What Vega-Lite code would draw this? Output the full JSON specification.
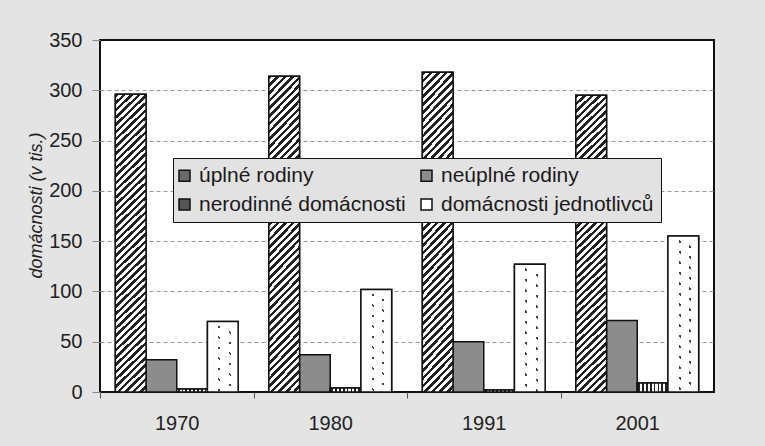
{
"$schema": "https://vega.github.io/schema/vega-lite/v6.json",
"width": 614, "height": 352,
"autosize": {"type": "none"},
"padding": {"left": 100, "top": 40, "right": 51, "bottom": 54},
"background": "#e4e4e4",
"config": {"font": "Liberation Sans", "view": {"stroke": "#111111", "strokeWidth": 2, "fill": "#ffffff"}},
"data": {"values": [
{"rok": "1970", "typ": "úplné rodiny", "hodnota": 296},
{"rok": "1970", "typ": "neúplné rodiny", "hodnota": 32},
{"rok": "1970", "typ": "nerodinné domácnosti", "hodnota": 3},
{"rok": "1970", "typ": "domácnosti jednotlivců", "hodnota": 70},
{"rok": "1980", "typ": "úplné rodiny", "hodnota": 314},
{"rok": "1980", "typ": "neúplné rodiny", "hodnota": 37},
{"rok": "1980", "typ": "nerodinné domácnosti", "hodnota": 4},
{"rok": "1980", "typ": "domácnosti jednotlivců", "hodnota": 102},
{"rok": "1991", "typ": "úplné rodiny", "hodnota": 318},
{"rok": "1991", "typ": "neúplné rodiny", "hodnota": 50},
{"rok": "1991", "typ": "nerodinné domácnosti", "hodnota": 2},
{"rok": "1991", "typ": "domácnosti jednotlivců", "hodnota": 127},
{"rok": "2001", "typ": "úplné rodiny", "hodnota": 295},
{"rok": "2001", "typ": "neúplné rodiny", "hodnota": 71},
{"rok": "2001", "typ": "nerodinné domácnosti", "hodnota": 9},
{"rok": "2001", "typ": "domácnosti jednotlivců", "hodnota": 155}
]},
"encoding": {
"x": {"field": "rok", "type": "nominal", "sort": null,
 "scale": {"domain": ["1970", "1980", "1991", "2001"], "paddingInner": 0.2, "paddingOuter": 0.1},
 "axis": {"title": null, "domain": false, "grid": false, "labelAngle": 0, "labelFontSize": 20, "labelColor": "#222222", "labelPadding": 15, "tickSize": 6, "tickColor": "#555555", "bandPosition": 0, "tickOffset": -15.35, "labelOffset": 15.35}},
"xOffset": {"field": "typ", "type": "nominal", "scale": {"domain": ["úplné rodiny", "neúplné rodiny", "nerodinné domácnosti", "domácnosti jednotlivců"], "paddingInner": 0, "paddingOuter": 0}},
"y": {"field": "hodnota", "type": "quantitative", "scale": {"domain": [0, 350], "nice": false},
 "axis": {"title": "domácnosti (v tis.)", "titleFontStyle": "italic", "titleFontWeight": "normal", "titleFontSize": 18, "titleColor": "#222222", "titleX": -58.5, "titleY": 165, "titleBaseline": "alphabetic",
  "values": [0, 50, 100, 150, 200, 250, 300, 350], "domain": false, "labelFontSize": 20, "labelColor": "#222222", "labelPadding": 10, "tickSize": 8, "tickColor": "#888888",
  "grid": true, "gridColor": "#999999", "gridDash": [4, 3], "gridOpacity": {"condition": {"test": "datum.value === 0 || datum.value === 350", "value": 0}, "value": 1}}}
},
"layer": [
{"mark": {"type": "bar", "stroke": "#111111", "strokeWidth": 1.5},
 "encoding": {"fill": {"field": "typ", "type": "nominal",
  "scale": {"domain": ["úplné rodiny", "neúplné rodiny", "nerodinné domácnosti", "domácnosti jednotlivců"],
   "range": ["#6a6a6a", "#8c8c8c", "#555555", "#ffffff"]},
  "legend": {"title": null, "orient": "none", "legendX": 73, "legendY": 118, "columns": 2, "direction": "horizontal",
   "symbolType": "square", "symbolSize": 121, "symbolStrokeColor": "#111111", "symbolStrokeWidth": 1.5, "symbolOffset": -6,
   "labelFontSize": 21, "labelColor": "#1a1a1a", "labelOffset": 4, "columnPadding": 12, "rowPadding": 7, "padding": 7,
   "fillColor": "#e2e2e2", "strokeColor": "#111111", "labelLimit": 400}}}},
{"transform": [{"filter": "datum.typ === 'úplné rodiny'"}],
 "mark": {"type": "bar", "stroke": "#111111", "strokeWidth": 1.5,
  "fill": {"gradient": "linear", "x1": 0, "y1": 0, "x2": 0.1085, "y2": 1.0889, "stops": [
{"offset":0,"color":"#222"},{"offset":0.0105,"color":"#222"},{"offset":0.0105,"color":"#fff"},{"offset":0.0222,"color":"#fff"},
{"offset":0.0222,"color":"#222"},{"offset":0.0327,"color":"#222"},{"offset":0.0327,"color":"#fff"},{"offset":0.0444,"color":"#fff"},
{"offset":0.0444,"color":"#222"},{"offset":0.0549,"color":"#222"},{"offset":0.0549,"color":"#fff"},{"offset":0.0667,"color":"#fff"},
{"offset":0.0667,"color":"#222"},{"offset":0.0772,"color":"#222"},{"offset":0.0772,"color":"#fff"},{"offset":0.0889,"color":"#fff"},
{"offset":0.0889,"color":"#222"},{"offset":0.0994,"color":"#222"},{"offset":0.0994,"color":"#fff"},{"offset":0.1111,"color":"#fff"},
{"offset":0.1111,"color":"#222"},{"offset":0.1216,"color":"#222"},{"offset":0.1216,"color":"#fff"},{"offset":0.1333,"color":"#fff"},
{"offset":0.1333,"color":"#222"},{"offset":0.1438,"color":"#222"},{"offset":0.1438,"color":"#fff"},{"offset":0.1556,"color":"#fff"},
{"offset":0.1556,"color":"#222"},{"offset":0.1661,"color":"#222"},{"offset":0.1661,"color":"#fff"},{"offset":0.1778,"color":"#fff"},
{"offset":0.1778,"color":"#222"},{"offset":0.1883,"color":"#222"},{"offset":0.1883,"color":"#fff"},{"offset":0.2,"color":"#fff"},
{"offset":0.2,"color":"#222"},{"offset":0.2105,"color":"#222"},{"offset":0.2105,"color":"#fff"},{"offset":0.2222,"color":"#fff"},
{"offset":0.2222,"color":"#222"},{"offset":0.2327,"color":"#222"},{"offset":0.2327,"color":"#fff"},{"offset":0.2444,"color":"#fff"},
{"offset":0.2444,"color":"#222"},{"offset":0.2549,"color":"#222"},{"offset":0.2549,"color":"#fff"},{"offset":0.2667,"color":"#fff"},
{"offset":0.2667,"color":"#222"},{"offset":0.2772,"color":"#222"},{"offset":0.2772,"color":"#fff"},{"offset":0.2889,"color":"#fff"},
{"offset":0.2889,"color":"#222"},{"offset":0.2994,"color":"#222"},{"offset":0.2994,"color":"#fff"},{"offset":0.3111,"color":"#fff"},
{"offset":0.3111,"color":"#222"},{"offset":0.3216,"color":"#222"},{"offset":0.3216,"color":"#fff"},{"offset":0.3333,"color":"#fff"},
{"offset":0.3333,"color":"#222"},{"offset":0.3438,"color":"#222"},{"offset":0.3438,"color":"#fff"},{"offset":0.3556,"color":"#fff"},
{"offset":0.3556,"color":"#222"},{"offset":0.3661,"color":"#222"},{"offset":0.3661,"color":"#fff"},{"offset":0.3778,"color":"#fff"},
{"offset":0.3778,"color":"#222"},{"offset":0.3883,"color":"#222"},{"offset":0.3883,"color":"#fff"},{"offset":0.4,"color":"#fff"},
{"offset":0.4,"color":"#222"},{"offset":0.4105,"color":"#222"},{"offset":0.4105,"color":"#fff"},{"offset":0.4222,"color":"#fff"},
{"offset":0.4222,"color":"#222"},{"offset":0.4327,"color":"#222"},{"offset":0.4327,"color":"#fff"},{"offset":0.4444,"color":"#fff"},
{"offset":0.4444,"color":"#222"},{"offset":0.4549,"color":"#222"},{"offset":0.4549,"color":"#fff"},{"offset":0.4667,"color":"#fff"},
{"offset":0.4667,"color":"#222"},{"offset":0.4772,"color":"#222"},{"offset":0.4772,"color":"#fff"},{"offset":0.4889,"color":"#fff"},
{"offset":0.4889,"color":"#222"},{"offset":0.4994,"color":"#222"},{"offset":0.4994,"color":"#fff"},{"offset":0.5111,"color":"#fff"},
{"offset":0.5111,"color":"#222"},{"offset":0.5216,"color":"#222"},{"offset":0.5216,"color":"#fff"},{"offset":0.5333,"color":"#fff"},
{"offset":0.5333,"color":"#222"},{"offset":0.5438,"color":"#222"},{"offset":0.5438,"color":"#fff"},{"offset":0.5556,"color":"#fff"},
{"offset":0.5556,"color":"#222"},{"offset":0.5661,"color":"#222"},{"offset":0.5661,"color":"#fff"},{"offset":0.5778,"color":"#fff"},
{"offset":0.5778,"color":"#222"},{"offset":0.5883,"color":"#222"},{"offset":0.5883,"color":"#fff"},{"offset":0.6,"color":"#fff"},
{"offset":0.6,"color":"#222"},{"offset":0.6105,"color":"#222"},{"offset":0.6105,"color":"#fff"},{"offset":0.6222,"color":"#fff"},
{"offset":0.6222,"color":"#222"},{"offset":0.6327,"color":"#222"},{"offset":0.6327,"color":"#fff"},{"offset":0.6444,"color":"#fff"},
{"offset":0.6444,"color":"#222"},{"offset":0.6549,"color":"#222"},{"offset":0.6549,"color":"#fff"},{"offset":0.6667,"color":"#fff"},
{"offset":0.6667,"color":"#222"},{"offset":0.6772,"color":"#222"},{"offset":0.6772,"color":"#fff"},{"offset":0.6889,"color":"#fff"},
{"offset":0.6889,"color":"#222"},{"offset":0.6994,"color":"#222"},{"offset":0.6994,"color":"#fff"},{"offset":0.7111,"color":"#fff"},
{"offset":0.7111,"color":"#222"},{"offset":0.7216,"color":"#222"},{"offset":0.7216,"color":"#fff"},{"offset":0.7333,"color":"#fff"},
{"offset":0.7333,"color":"#222"},{"offset":0.7438,"color":"#222"},{"offset":0.7438,"color":"#fff"},{"offset":0.7556,"color":"#fff"},
{"offset":0.7556,"color":"#222"},{"offset":0.7661,"color":"#222"},{"offset":0.7661,"color":"#fff"},{"offset":0.7778,"color":"#fff"},
{"offset":0.7778,"color":"#222"},{"offset":0.7883,"color":"#222"},{"offset":0.7883,"color":"#fff"},{"offset":0.8,"color":"#fff"},
{"offset":0.8,"color":"#222"},{"offset":0.8105,"color":"#222"},{"offset":0.8105,"color":"#fff"},{"offset":0.8222,"color":"#fff"},
{"offset":0.8222,"color":"#222"},{"offset":0.8327,"color":"#222"},{"offset":0.8327,"color":"#fff"},{"offset":0.8444,"color":"#fff"},
{"offset":0.8444,"color":"#222"},{"offset":0.8549,"color":"#222"},{"offset":0.8549,"color":"#fff"},{"offset":0.8667,"color":"#fff"},
{"offset":0.8667,"color":"#222"},{"offset":0.8772,"color":"#222"},{"offset":0.8772,"color":"#fff"},{"offset":0.8889,"color":"#fff"},
{"offset":0.8889,"color":"#222"},{"offset":0.8994,"color":"#222"},{"offset":0.8994,"color":"#fff"},{"offset":0.9111,"color":"#fff"},
{"offset":0.9111,"color":"#222"},{"offset":0.9216,"color":"#222"},{"offset":0.9216,"color":"#fff"},{"offset":0.9333,"color":"#fff"},
{"offset":0.9333,"color":"#222"},{"offset":0.9438,"color":"#222"},{"offset":0.9438,"color":"#fff"},{"offset":0.9556,"color":"#fff"},
{"offset":0.9556,"color":"#222"},{"offset":0.9661,"color":"#222"},{"offset":0.9661,"color":"#fff"},{"offset":0.9778,"color":"#fff"},
{"offset":0.9778,"color":"#222"},{"offset":0.9883,"color":"#222"},{"offset":0.9883,"color":"#fff"},{"offset":1,"color":"#fff"}
  ]}}},
{"transform": [{"filter": "datum.typ === 'nerodinné domácnosti'"}],
 "mark": {"type": "bar", "stroke": "#111111", "strokeWidth": 1.5,
  "fill": {"gradient": "linear", "x1": 0, "y1": 0, "x2": 1, "y2": 0, "stops": [
{"offset":0,"color":"#fff"},{"offset":0.035,"color":"#fff"},{"offset":0.035,"color":"#222"},{"offset":0.09,"color":"#222"},
{"offset":0.09,"color":"#fff"},{"offset":0.16,"color":"#fff"},{"offset":0.16,"color":"#222"},{"offset":0.215,"color":"#222"},
{"offset":0.215,"color":"#fff"},{"offset":0.285,"color":"#fff"},{"offset":0.285,"color":"#222"},{"offset":0.34,"color":"#222"},
{"offset":0.34,"color":"#fff"},{"offset":0.41,"color":"#fff"},{"offset":0.41,"color":"#222"},{"offset":0.465,"color":"#222"},
{"offset":0.465,"color":"#fff"},{"offset":0.535,"color":"#fff"},{"offset":0.535,"color":"#222"},{"offset":0.59,"color":"#222"},
{"offset":0.59,"color":"#fff"},{"offset":0.66,"color":"#fff"},{"offset":0.66,"color":"#222"},{"offset":0.715,"color":"#222"},
{"offset":0.715,"color":"#fff"},{"offset":0.785,"color":"#fff"},{"offset":0.785,"color":"#222"},{"offset":0.84,"color":"#222"},
{"offset":0.84,"color":"#fff"},{"offset":0.91,"color":"#fff"},{"offset":0.91,"color":"#222"},{"offset":0.965,"color":"#222"},
{"offset":0.965,"color":"#fff"},{"offset":1,"color":"#fff"}
  ]}}},
{"transform": [{"filter": "datum.typ === 'domácnosti jednotlivců' && datum.rok === '1970'"}],
 "mark": {"type": "bar",
  "fill": {"gradient": "linear", "x1": 1, "y1": 0, "x2": 0.7465, "y2": 1.1627, "stops": [
{"offset":0,"color":"#fff"},{"offset":0.1621,"color":"#fff"},{"offset":0.1621,"color":"#444"},{"offset":0.1878,"color":"#444"},{"offset":0.1878,"color":"#fff"},
{"offset":0.2845,"color":"#fff"},{"offset":0.2845,"color":"#444"},{"offset":0.3102,"color":"#444"},{"offset":0.3102,"color":"#fff"},
{"offset":0.4070,"color":"#fff"},{"offset":0.4070,"color":"#444"},{"offset":0.4327,"color":"#444"},{"offset":0.4327,"color":"#fff"},
{"offset":0.5294,"color":"#fff"},{"offset":0.5294,"color":"#444"},{"offset":0.5551,"color":"#444"},{"offset":0.5551,"color":"#fff"},
{"offset":0.6519,"color":"#fff"},{"offset":0.6519,"color":"#444"},{"offset":0.6776,"color":"#444"},{"offset":0.6776,"color":"#fff"},
{"offset":0.7743,"color":"#fff"},{"offset":0.7743,"color":"#444"},{"offset":0.8,"color":"#444"},{"offset":0.8,"color":"#fff"},
{"offset":0.8968,"color":"#fff"},{"offset":0.8968,"color":"#444"},{"offset":0.9224,"color":"#444"},{"offset":0.9224,"color":"#fff"},
{"offset":1,"color":"#fff"}]}}},
{"transform": [{"filter": "datum.typ === 'domácnosti jednotlivců' && datum.rok === '1980'"}],
 "mark": {"type": "bar",
  "fill": {"gradient": "linear", "x1": 1, "y1": 0, "x2": 0.8318, "y2": 1.1244, "stops": [
{"offset":0,"color":"#fff"},{"offset":0.1178,"color":"#fff"},{"offset":0.1178,"color":"#444"},{"offset":0.1365,"color":"#444"},{"offset":0.1365,"color":"#fff"},
{"offset":0.2069,"color":"#fff"},{"offset":0.2069,"color":"#444"},{"offset":0.2255,"color":"#444"},{"offset":0.2255,"color":"#fff"},
{"offset":0.2959,"color":"#fff"},{"offset":0.2959,"color":"#444"},{"offset":0.3145,"color":"#444"},{"offset":0.3145,"color":"#fff"},
{"offset":0.3849,"color":"#fff"},{"offset":0.3849,"color":"#444"},{"offset":0.4036,"color":"#444"},{"offset":0.4036,"color":"#fff"},
{"offset":0.4739,"color":"#fff"},{"offset":0.4739,"color":"#444"},{"offset":0.4926,"color":"#444"},{"offset":0.4926,"color":"#fff"},
{"offset":0.5630,"color":"#fff"},{"offset":0.5630,"color":"#444"},{"offset":0.5816,"color":"#444"},{"offset":0.5816,"color":"#fff"},
{"offset":0.6520,"color":"#fff"},{"offset":0.6520,"color":"#444"},{"offset":0.6706,"color":"#444"},{"offset":0.6706,"color":"#fff"},
{"offset":0.7410,"color":"#fff"},{"offset":0.7410,"color":"#444"},{"offset":0.7596,"color":"#444"},{"offset":0.7596,"color":"#fff"},
{"offset":0.8300,"color":"#fff"},{"offset":0.8300,"color":"#444"},{"offset":0.8487,"color":"#444"},{"offset":0.8487,"color":"#fff"},
{"offset":0.9190,"color":"#fff"},{"offset":0.9190,"color":"#444"},{"offset":0.9377,"color":"#444"},{"offset":0.9377,"color":"#fff"},
{"offset":1,"color":"#fff"}]}}},
{"transform": [{"filter": "datum.typ === 'domácnosti jednotlivců' && datum.rok === '1991'"}],
 "mark": {"type": "bar",
  "fill": {"gradient": "linear", "x1": 1, "y1": 0, "x2": 0.8673, "y2": 1.1043, "stops": [
{"offset":0,"color":"#fff"},{"offset":0.0972,"color":"#fff"},{"offset":0.0972,"color":"#444"},{"offset":0.1125,"color":"#444"},{"offset":0.1125,"color":"#fff"},
{"offset":0.1706,"color":"#fff"},{"offset":0.1706,"color":"#444"},{"offset":0.1859,"color":"#444"},{"offset":0.1859,"color":"#fff"},
{"offset":0.2440,"color":"#fff"},{"offset":0.2440,"color":"#444"},{"offset":0.2594,"color":"#444"},{"offset":0.2594,"color":"#fff"},
{"offset":0.3174,"color":"#fff"},{"offset":0.3174,"color":"#444"},{"offset":0.3328,"color":"#444"},{"offset":0.3328,"color":"#fff"},
{"offset":0.3908,"color":"#fff"},{"offset":0.3908,"color":"#444"},{"offset":0.4062,"color":"#444"},{"offset":0.4062,"color":"#fff"},
{"offset":0.4642,"color":"#fff"},{"offset":0.4642,"color":"#444"},{"offset":0.4795,"color":"#444"},{"offset":0.4795,"color":"#fff"},
{"offset":0.5376,"color":"#fff"},{"offset":0.5376,"color":"#444"},{"offset":0.5530,"color":"#444"},{"offset":0.5530,"color":"#fff"},
{"offset":0.6110,"color":"#fff"},{"offset":0.6110,"color":"#444"},{"offset":0.6264,"color":"#444"},{"offset":0.6264,"color":"#fff"},
{"offset":0.6844,"color":"#fff"},{"offset":0.6844,"color":"#444"},{"offset":0.6998,"color":"#444"},{"offset":0.6998,"color":"#fff"},
{"offset":0.7578,"color":"#fff"},{"offset":0.7578,"color":"#444"},{"offset":0.7732,"color":"#444"},{"offset":0.7732,"color":"#fff"},
{"offset":0.8312,"color":"#fff"},{"offset":0.8312,"color":"#444"},{"offset":0.8466,"color":"#444"},{"offset":0.8466,"color":"#fff"},
{"offset":0.9046,"color":"#fff"},{"offset":0.9046,"color":"#444"},{"offset":0.9200,"color":"#444"},{"offset":0.9200,"color":"#fff"},
{"offset":1,"color":"#fff"}]}}},
{"transform": [{"filter": "datum.typ === 'domácnosti jednotlivců' && datum.rok === '2001'"}],
 "mark": {"type": "bar",
  "fill": {"gradient": "linear", "x1": 1, "y1": 0, "x2": 0.8929, "y2": 1.0879, "stops": [
{"offset":0,"color":"#fff"},{"offset":0.0812,"color":"#fff"},{"offset":0.0812,"color":"#444"},{"offset":0.0940,"color":"#444"},{"offset":0.0940,"color":"#fff"},
{"offset":0.1425,"color":"#fff"},{"offset":0.1425,"color":"#444"},{"offset":0.1553,"color":"#444"},{"offset":0.1553,"color":"#fff"},
{"offset":0.2038,"color":"#fff"},{"offset":0.2038,"color":"#444"},{"offset":0.2166,"color":"#444"},{"offset":0.2166,"color":"#fff"},
{"offset":0.2651,"color":"#fff"},{"offset":0.2651,"color":"#444"},{"offset":0.2780,"color":"#444"},{"offset":0.2780,"color":"#fff"},
{"offset":0.3264,"color":"#fff"},{"offset":0.3264,"color":"#444"},{"offset":0.3393,"color":"#444"},{"offset":0.3393,"color":"#fff"},
{"offset":0.3877,"color":"#fff"},{"offset":0.3877,"color":"#444"},{"offset":0.4006,"color":"#444"},{"offset":0.4006,"color":"#fff"},
{"offset":0.4491,"color":"#fff"},{"offset":0.4491,"color":"#444"},{"offset":0.4619,"color":"#444"},{"offset":0.4619,"color":"#fff"},
{"offset":0.5104,"color":"#fff"},{"offset":0.5104,"color":"#444"},{"offset":0.5232,"color":"#444"},{"offset":0.5232,"color":"#fff"},
{"offset":0.5717,"color":"#fff"},{"offset":0.5717,"color":"#444"},{"offset":0.5845,"color":"#444"},{"offset":0.5845,"color":"#fff"},
{"offset":0.6330,"color":"#fff"},{"offset":0.6330,"color":"#444"},{"offset":0.6458,"color":"#444"},{"offset":0.6458,"color":"#fff"},
{"offset":0.6943,"color":"#fff"},{"offset":0.6943,"color":"#444"},{"offset":0.7072,"color":"#444"},{"offset":0.7072,"color":"#fff"},
{"offset":0.7556,"color":"#fff"},{"offset":0.7556,"color":"#444"},{"offset":0.7685,"color":"#444"},{"offset":0.7685,"color":"#fff"},
{"offset":0.8169,"color":"#fff"},{"offset":0.8169,"color":"#444"},{"offset":0.8298,"color":"#444"},{"offset":0.8298,"color":"#fff"},
{"offset":0.8782,"color":"#fff"},{"offset":0.8782,"color":"#444"},{"offset":0.8911,"color":"#444"},{"offset":0.8911,"color":"#fff"},
{"offset":0.9396,"color":"#fff"},{"offset":0.9396,"color":"#444"},{"offset":0.9524,"color":"#444"},{"offset":0.9524,"color":"#fff"},
{"offset":1,"color":"#fff"}]}}},
{"transform": [{"filter": "datum.typ === 'domácnosti jednotlivců'"}],
 "mark": {"type": "bar", "stroke": "#111111", "strokeWidth": 1.5,
  "fill": {"gradient": "linear", "x1": 0, "y1": 0, "x2": 1, "y2": 0, "stops": [
{"offset":0,"color":"#ffffff"},{"offset":0.357,"color":"#ffffff"},{"offset":0.357,"color":"rgba(255,255,255,0)"},{"offset":0.423,"color":"rgba(255,255,255,0)"},{"offset":0.423,"color":"#ffffff"},
{"offset":0.697,"color":"#ffffff"},{"offset":0.697,"color":"rgba(255,255,255,0)"},{"offset":0.763,"color":"rgba(255,255,255,0)"},{"offset":0.763,"color":"#ffffff"},{"offset":1,"color":"#ffffff"}]}}}
]
}
